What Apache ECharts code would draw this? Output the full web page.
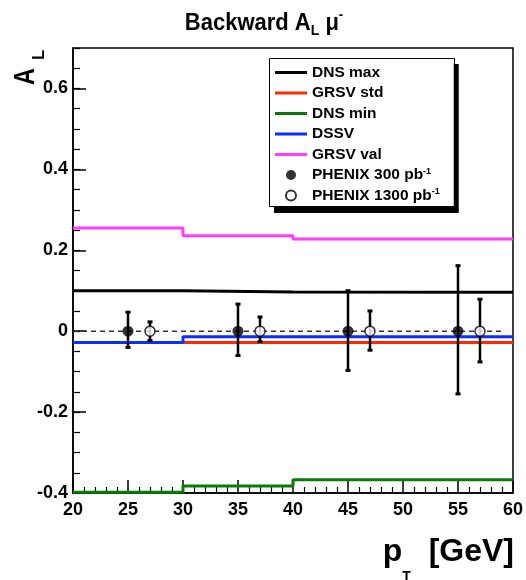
<!DOCTYPE html>
<html>
<head>
<meta charset="utf-8">
<script src="https://cdn.jsdelivr.net/npm/echarts@6/dist/echarts.min.js"></script>
<style>
  html, body { margin: 0; padding: 0; background: #fff; }
  #chart { width: 526px; height: 580px; }
</style>
</head>
<body>
<div id="chart"></div>
<script>
// pT bin edges of the theory curves [GeV]
const binEdges = [20, 30, 40, 60];

// Theory predictions of A_L per pT bin
const dnsMax  = [0.100, 0.097, 0.096];
const grsvStd = [-0.028, -0.028, -0.028];
const dnsMin  = [-0.398, -0.383, -0.367];
const dssv    = [-0.028, -0.014, -0.014];
const grsvVal = [0.255, 0.236, 0.228];

// Projected PHENIX points, 300 pb^-1
const pt300    = [25, 35, 45, 55];
const al300    = [0, 0, 0, 0];
const lo300    = [-0.040, -0.060, -0.097, -0.155];
const hi300    = [0.047, 0.067, 0.100, 0.162];

// Projected PHENIX points, 1300 pb^-1
const pt1300   = [27, 37, 47, 57];
const al1300   = [0, 0, 0, 0];
const lo1300   = [-0.023, -0.026, -0.047, -0.076];
const hi1300   = [0.023, 0.035, 0.050, 0.079];

// Zero reference line extent
const zeroLine = [[20, 0], [59, 0]];

const FONT = '"Liberation Sans", Arial, Helvetica, sans-serif';
const LINE_ICON = 'path://M0,0H32V3H0Z';

function stepData(vals) {
  const d = vals.map((v, i) => [binEdges[i], v]);
  d.push([binEdges[binEdges.length - 1], vals[vals.length - 1]]);
  return d;
}

function stepSeries(name, vals, color) {
  return {
    name: name, type: 'line', step: 'end', symbol: 'none', silent: true,
    data: stepData(vals), z: 2,
    lineStyle: { color: color, width: 3 },
    itemStyle: { color: color }
  };
}

function errorBars(xs, ys, los, his) {
  return {
    type: 'custom', silent: true, z: 4,
    data: xs.map((x, i) => [x, ys[i], los[i], his[i]]),
    encode: { x: 0, y: [2, 3] },
    renderItem: function (params, api) {
      const x = api.value(0);
      const lo = api.coord([x, api.value(2)]);
      const hi = api.coord([x, api.value(3)]);
      return {
        type: 'group',
        children: [
          { type: 'line', shape: { x1: lo[0], y1: lo[1], x2: hi[0], y2: hi[1] },
            style: { stroke: '#000', lineWidth: 2.5 } },
          { type: 'rect', shape: { x: hi[0] - 2.5, y: hi[1] - 1.5, width: 5, height: 3 },
            style: { fill: '#000' } },
          { type: 'rect', shape: { x: lo[0] - 2.5, y: lo[1] - 1.5, width: 5, height: 3 },
            style: { fill: '#000' } }
        ]
      };
    }
  };
}

const chart = echarts.init(document.getElementById('chart'), null, { renderer: 'canvas' });

const axisLineStyle = { color: '#000', width: 1.5 };
const labelStyle = { fontFamily: FONT, fontWeight: 'bold', fontSize: 18, color: '#000' };

chart.setOption({
  animation: false,
  backgroundColor: '#fff',
  grid: { left: 73, right: 10.5, top: 48, bottom: 87, show: true, borderColor: '#000', borderWidth: 1.5 },
  xAxis: [{
    type: 'value', min: 20, max: 60, interval: 5,
    axisLine: { show: true, onZero: false, lineStyle: axisLineStyle },
    axisTick: { show: true, inside: true, length: 13, lineStyle: axisLineStyle },
    minorTick: { show: true, splitNumber: 5, length: 6, lineStyle: { color: '#000', width: 1.2 } },
    axisLabel: Object.assign({ margin: 8 }, labelStyle),
    splitLine: { show: false }
  }],
  yAxis: [{
    type: 'value', position: 'left', min: -0.4, max: 0.7, interval: 0.2,
    axisLine: { show: true, onZero: false, lineStyle: axisLineStyle },
    axisTick: { show: true, inside: true, length: 13, lineStyle: axisLineStyle },
    axisLabel: Object.assign({
      margin: 5, showMaxLabel: false,
      formatter: v => (Math.round(v * 10) / 10).toString()
    }, labelStyle),
    splitLine: { show: false }
  }, {
    type: 'value', position: 'left', min: -0.4, max: 0.7, interval: 0.05,
    axisLine: { show: false },
    axisTick: { show: true, inside: true, length: 7, lineStyle: { color: '#000', width: 1.2 } },
    axisLabel: { show: false },
    splitLine: { show: false }
  }],
  legend: {
    data: [
      { name: 'DNS max', icon: LINE_ICON },
      { name: 'GRSV std', icon: LINE_ICON },
      { name: 'DNS min', icon: LINE_ICON },
      { name: 'DSSV', icon: LINE_ICON },
      { name: 'GRSV val', icon: LINE_ICON },
      { name: 'PHENIX 300 pb-1' },
      { name: 'PHENIX 1300 pb-1' }
    ],
    orient: 'vertical', left: 269, top: 58,
    backgroundColor: '#fff', borderWidth: 0,
    shadowColor: '#000', shadowBlur: 0, shadowOffsetX: 5, shadowOffsetY: 6,
    padding: [6.5, 14, 3.5, 6], itemWidth: 32, itemHeight: 10, itemGap: 4.5,
    selectedMode: false,
    formatter: n => n.replace('pb-1', 'pb{sup|-1}'),
    textStyle: {
      fontFamily: FONT, fontWeight: 'bold', fontSize: 15.5, color: '#000', lineHeight: 16,
      rich: { sup: { fontFamily: FONT, fontWeight: 'bold', fontSize: 9, lineHeight: 9, verticalAlign: 'top', color: '#000' } }
    }
  },
  graphic: [{
    // legend frame
    type: 'rect', z: 100, silent: true,
    shape: { x: 269.5, y: 58.5, width: 185, height: 148 },
    style: { fill: 'none', stroke: '#000', lineWidth: 1 }
  }, {
    type: 'text', x: 264, y: 23, scaleY: 1.1, silent: true,
    style: {
      text: 'Backward A{sub|L} μ{sup|-}', fill: '#000',
      fontFamily: FONT, fontWeight: 'bold', fontSize: 22, lineHeight: 28,
      align: 'center', verticalAlign: 'middle',
      rich: {
        sub: { fontFamily: FONT, fontWeight: 'bold', fontSize: 14, lineHeight: 14, verticalAlign: 'bottom', fill: '#000' },
        sup: { fontFamily: FONT, fontWeight: 'bold', fontSize: 13, lineHeight: 13, verticalAlign: 'top', fill: '#000' }
      }
    }
  }, {
    // y-axis title: A with subscript L, reading upwards
    type: 'text', x: 26, y: 85, rotation: Math.PI / 2, scaleX: 0.8, silent: true,
    style: {
      text: 'A', fill: '#000', fontFamily: FONT, fontWeight: 'bold', fontSize: 29,
      align: 'left', verticalAlign: 'middle'
    }
  }, {
    type: 'text', x: 39, y: 60, rotation: Math.PI / 2, silent: true,
    style: {
      text: 'L', fill: '#000', fontFamily: FONT, fontWeight: 'bold', fontSize: 17,
      align: 'left', verticalAlign: 'middle'
    }
  }, {
    type: 'text', x: 514, y: 552, silent: true,
    style: {
      text: 'p{sub|T}  [GeV]', fill: '#000',
      fontFamily: FONT, fontWeight: 'bold', fontSize: 32, lineHeight: 64,
      align: 'right', verticalAlign: 'middle',
      rich: {
        sub: { fontFamily: FONT, fontWeight: 'bold', fontSize: 14, lineHeight: 14, verticalAlign: 'bottom', fill: '#000' }
      }
    }
  }],
  series: [
    {
      type: 'line', data: zeroLine, symbol: 'none', silent: true, z: 1,
      lineStyle: { color: '#333', width: 1.5, type: [5, 4] }
    },
    stepSeries('DNS max', dnsMax, '#000000'),
    stepSeries('GRSV std', grsvStd, '#ff2a00'),
    stepSeries('DNS min', dnsMin, '#0b7a0b'),
    stepSeries('DSSV', dssv, '#0a2eff'),
    stepSeries('GRSV val', grsvVal, '#ff3cff'),
    errorBars(pt300, al300, lo300, hi300),
    errorBars(pt1300, al1300, lo1300, hi1300),
    {
      name: 'PHENIX 300 pb-1', type: 'scatter', symbol: 'circle', symbolSize: 11, z: 5,
      silent: true,
      itemStyle: { color: '#000' },
      data: pt300.map((x, i) => [x, al300[i]])
    },
    {
      name: 'PHENIX 1300 pb-1', type: 'scatter', symbol: 'circle', symbolSize: 10, z: 5,
      silent: true,
      itemStyle: { color: '#fff', borderColor: '#000', borderWidth: 1.5 },
      data: pt1300.map((x, i) => [x, al1300[i]])
    }
  ]
});
</script>
</body>
</html>
